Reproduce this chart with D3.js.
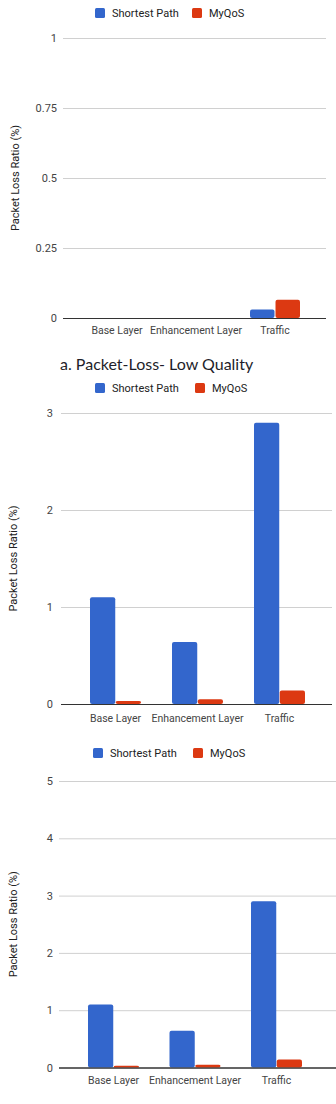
<!DOCTYPE html>
<html>
<head>
<meta charset="utf-8">
<script src="https://cdn.jsdelivr.net/npm/d3@7/dist/d3.min.js"></script>
<style>
  html, body { margin: 0; padding: 0; background: #fff; }
  svg { display: block; }
</style>
</head>
<body>
<svg id="chart" width="336" height="1104"></svg>
<script>
// Packet-loss measurements per stream component
const categories = ["Base Layer", "Enhancement Layer", "Traffic"];
const seriesNames = ["Shortest Path", "MyQoS"];
const seriesColors = ["#3366cc", "#dc3912"];

// Low quality run
const lowShortestPath = [0, 0, 0.03];
const lowMyQoS = [0, 0, 0.065];
const lowTicks = [0, 0.25, 0.5, 0.75, 1];
const lowTickLabels = ["0", "0.25", "0.5", "0.75", "1"];

// Second run (two axis ranges)
const highShortestPath = [1.1, 0.64, 2.9];
const highMyQoS = [0.03, 0.05, 0.14];
const midTicks = [0, 1, 2, 3];
const highTicks = [0, 1, 2, 3, 4, 5];

const yTitle = "Packet Loss Ratio (%)";
const captionText = "a. Packet-Loss- Low Quality";

const svg = d3.select("#chart");

function drawPanel(cfg) {
  const g = svg.append("g");
  const y = d3.scaleLinear().domain([0, cfg.yMax]).range([cfg.y0, cfg.yTop]);
  const x0 = d3.scaleBand().domain(categories).range(cfg.bandRange).padding(0);
  const groupW = cfg.barW * 2 + cfg.gap;
  const x1 = d3.scaleBand().domain(seriesNames).range([0, groupW]).paddingInner(cfg.gap / groupW);

  // legend
  const lg = g.append("g").attr("transform", `translate(0,${cfg.legendY})`);
  seriesNames.forEach((s, i) => {
    lg.append("rect").attr("x", cfg.legendX[i]).attr("y", -5).attr("width", 10).attr("height", 10)
      .attr("rx", 1.5).attr("fill", seriesColors[i]);
    lg.append("text").attr("x", cfg.legendX[i] + 17).attr("y", 0).attr("dy", "0.36em")
      .attr("font-family", "Roboto, Arial, sans-serif").attr("font-size", 11)
      .attr("fill", "#222").text(s);
  });

  // gridlines + tick labels
  const ticks = cfg.ticks;
  const axis = d3.axisLeft(y).tickValues(ticks)
    .tickFormat((d, i) => cfg.tickLabels ? cfg.tickLabels[i] : d3.format("~g")(d))
    .tickSize(-(cfg.gridX[1] - cfg.gridX[0])).tickPadding(cfg.tickPad);
  const ax = g.append("g").attr("transform", `translate(${cfg.gridX[0]},0)`).call(axis);
  ax.select(".domain").remove();
  ax.selectAll(".tick line").attr("stroke", d => d === 0 ? "#333" : "#d0d0d0").attr("stroke-width", 1);
  ax.selectAll(".tick text").attr("font-family", "Roboto, Arial, sans-serif").attr("font-size", 11)
    .attr("fill", "#444");
  // baseline drawn over gridlines later

  // bars
  const series = [cfg.a, cfg.b];
  categories.forEach((c, ci) => {
    series.forEach((vals, si) => {
      const v = vals[ci];
      if (v <= 0) return;
      const bx = x0(c) + (x0.bandwidth() - groupW) / 2 + x1(seriesNames[si]);
      g.append("rect").attr("x", bx).attr("y", y(v)).attr("width", x1.bandwidth())
        .attr("height", y(0) - y(v)).attr("rx", 2).attr("fill", seriesColors[si]);
    });
  });

  // baseline on top
  g.append("line").attr("x1", cfg.gridX[0]).attr("x2", cfg.gridX[1])
    .attr("y1", y(0) + 0.5).attr("y2", y(0) + 0.5).attr("stroke", "#333").attr("stroke-width", 1);

  // category labels
  categories.forEach(c => {
    g.append("text").attr("x", x0(c) + x0.bandwidth() / 2).attr("y", cfg.catY)
      .attr("dy", "0.36em").attr("text-anchor", "middle")
      .attr("font-family", "Roboto, Arial, sans-serif").attr("font-size", 10.5)
      .attr("fill", "#444").text(c);
  });

  // y axis title
  g.append("text")
    .attr("transform", `translate(${cfg.titleX},${(cfg.y0 + cfg.yTop) / 2}) rotate(-90)`)
    .attr("text-anchor", "middle").attr("dy", "0.36em")
    .attr("font-family", "Roboto, Arial, sans-serif").attr("font-size", 11)
    .attr("fill", "#222").text(yTitle);
}

drawPanel({
  a: lowShortestPath, b: lowMyQoS, yMax: 1, ticks: lowTicks, tickLabels: lowTickLabels,
  y0: 318, yTop: 38, gridX: [63, 326], bandRange: [77.5, 314.5], barW: 24, gap: 2,
  legendY: 13, legendX: [95, 192], catY: 330, titleX: 15, tickPad: 6
});

svg.append("text").attr("x", 60).attr("y", 370)
  .attr("font-family", "Lato, 'Open Sans', sans-serif").attr("font-size", 16)
  .attr("fill", "#1e1e2a").text(captionText);

drawPanel({
  a: highShortestPath, b: highMyQoS, yMax: 3, ticks: midTicks,
  y0: 704, yTop: 413, gridX: [61, 332], bandRange: [74.5, 320.5], barW: 25, gap: 1,
  legendY: 388, legendX: [95, 195], catY: 718, titleX: 13, tickPad: 8
});

drawPanel({
  a: highShortestPath, b: highMyQoS, yMax: 5, ticks: highTicks,
  y0: 1067.5, yTop: 781, gridX: [59, 336], bandRange: [72.75, 317.25], barW: 25, gap: 1,
  legendY: 753, legendX: [93, 193], catY: 1080, titleX: 13, tickPad: 6
});
</script>
</body>
</html>
